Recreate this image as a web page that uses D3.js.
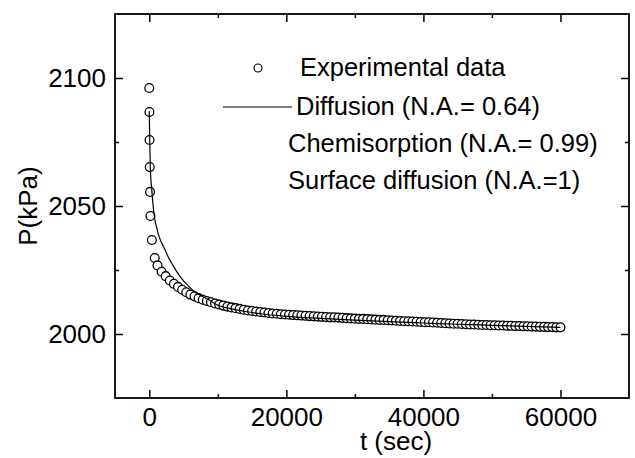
<!DOCTYPE html>
<html>
<head>
<meta charset="utf-8">
<script src="https://cdn.jsdelivr.net/npm/d3@7"></script>
<style>
  body { margin: 0; background: #fff; }
  text { font-family: "Liberation Sans", Arial, sans-serif; fill: #000; }
</style>
</head>
<body>
<div id="chart"></div>
<script>
// experimental points: time (s) and pressure (kPa)
const expT = [0, 20, 40, 70, 110, 170, 380, 800,
  1200, 1800, 2400, 3000, 3600, 4200, 4800, 5400, 6000, 6600,
  7200, 7800, 8400, 9000, 9600, 10200, 10800, 11400, 12000, 12600,
  13200, 13800, 14400, 15000, 15600, 16200, 16800, 17400, 18000, 18600,
  19200, 19800, 20400, 21000, 21600, 22200, 22800, 23400, 24000, 24600,
  25200, 25800, 26400, 27000, 27600, 28200, 28800, 29400, 30000, 30600,
  31200, 31800, 32400, 33000, 33600, 34200, 34800, 35400, 36000, 36600,
  37200, 37800, 38400, 39000, 39600, 40200, 40800, 41400, 42000, 42600,
  43200, 43800, 44400, 45000, 45600, 46200, 46800, 47400, 48000, 48600,
  49200, 49800, 50400, 51000, 51600, 52200, 52800, 53400, 54000, 54600,
  55200, 55800, 56400, 57000, 57600, 58200, 58800, 59400, 60000];
const expP = [2096.1, 2086.7, 2075.8, 2065.2, 2055.5, 2046.1, 2036.7, 2029.7,
  2026.8, 2024.3, 2022.6, 2020.9, 2019.6, 2018.4, 2017.3, 2016.3, 2015.4, 2014.7,
  2014.0, 2013.4, 2012.9, 2012.4, 2011.9, 2011.5, 2011.1, 2010.7, 2010.4, 2010.1,
  2009.8, 2009.5, 2009.2, 2009.0, 2008.8, 2008.6, 2008.4, 2008.2, 2008.0, 2007.9,
  2007.7, 2007.6, 2007.5, 2007.4, 2007.3, 2007.2, 2007.1, 2007.0, 2006.9, 2006.8,
  2006.7, 2006.6, 2006.5, 2006.5, 2006.4, 2006.3, 2006.2, 2006.1, 2006.0, 2005.9,
  2005.9, 2005.8, 2005.7, 2005.6, 2005.5, 2005.5, 2005.4, 2005.3, 2005.2, 2005.1,
  2005.0, 2005.0, 2004.9, 2004.8, 2004.7, 2004.6, 2004.6, 2004.5, 2004.4, 2004.3,
  2004.2, 2004.1, 2004.0, 2004.0, 2003.9, 2003.8, 2003.7, 2003.7, 2003.6, 2003.5,
  2003.5, 2003.4, 2003.4, 2003.3, 2003.3, 2003.2, 2003.2, 2003.1, 2003.1, 2003.0,
  2003.0, 2002.9, 2002.9, 2002.8, 2002.8, 2002.7, 2002.7, 2002.6, 2002.6];

// diffusion model curve
const diffT = [0, 70, 150, 390, 730, 1100, 1610, 2040, 2770, 3500, 4530, 5690,
  6860, 8470, 10000, 12000, 14000, 16000, 20000, 25000, 30000, 35000, 40000,
  45000, 50000, 55000, 60000];
const diffP = [2087, 2075.8, 2065.2, 2055.5, 2046.1, 2041.4, 2036.7, 2034.4,
  2030.1, 2026.6, 2022.3, 2018.8, 2016.0, 2013.7, 2011.2, 2009.8, 2008.8, 2008.0,
  2006.9, 2006.1, 2005.4, 2004.8, 2004.3, 2003.8, 2003.4, 2003.0, 2002.6];

const xMajor = [0, 20000, 40000, 60000];
const xMinor = [10000, 30000, 50000];
const yMajor = [2000, 2050, 2100];
const yMinor = [2025, 2075];

const legendLabels = ["Experimental data", "Diffusion (N.A.= 0.64)",
  "Chemisorption (N.A.= 0.99)", "Surface diffusion (N.A.=1)"];

const W = 635, H = 458;
const margin = {top: 14, right: 6, bottom: 60, left: 115};
const width = W - margin.left - margin.right,
      height = H - margin.top - margin.bottom;

const svg = d3.select("#chart").append("svg")
    .attr("width", W)
    .attr("height", H);

const g = svg.append("g")
    .attr("transform", `translate(${margin.left},${margin.top})`);

const x = d3.scaleLinear().domain([-5000, 70000]).range([0, width]);
const y = d3.scaleLinear().domain([1975, 2125]).range([height, 0]);

// axes, ticks pointing inward on all four sides
function styleAxis(sel) {
    sel.select(".domain").remove();
    sel.selectAll("line").attr("stroke", "#000").attr("stroke-width", 1.5);
    sel.selectAll("text").attr("font-size", "26px")
        .attr("font-family", '"Liberation Sans", Arial, sans-serif');
}

g.append("g").attr("transform", `translate(0,${height})`)
    .call(d3.axisBottom(x).tickValues(xMajor).tickSize(-8).tickPadding(10).tickFormat(d3.format("d")))
    .call(styleAxis);
g.append("g").attr("transform", `translate(0,${height})`)
    .call(d3.axisBottom(x).tickValues(xMinor).tickSize(-4).tickFormat(""))
    .call(styleAxis);
g.append("g")
    .call(d3.axisTop(x).tickValues(xMajor).tickSize(-8).tickFormat(""))
    .call(styleAxis);
g.append("g")
    .call(d3.axisTop(x).tickValues(xMinor).tickSize(-4).tickFormat(""))
    .call(styleAxis);

g.append("g")
    .call(d3.axisLeft(y).tickValues(yMajor).tickSize(-8).tickPadding(9).tickFormat(d3.format("d")))
    .call(styleAxis);
g.append("g")
    .call(d3.axisLeft(y).tickValues(yMinor).tickSize(-4).tickFormat(""))
    .call(styleAxis);
g.append("g").attr("transform", `translate(${width},0)`)
    .call(d3.axisRight(y).tickValues(yMajor).tickSize(-8).tickFormat(""))
    .call(styleAxis);
g.append("g").attr("transform", `translate(${width},0)`)
    .call(d3.axisRight(y).tickValues(yMinor).tickSize(-4).tickFormat(""))
    .call(styleAxis);

g.selectAll(".tick text").attr("fill", "#000");

// frame
g.append("rect")
    .attr("width", width)
    .attr("height", height)
    .attr("fill", "none")
    .attr("stroke", "#000")
    .attr("stroke-width", 1.8);

// axis titles
g.append("text")
    .attr("x", 396 - margin.left)
    .attr("y", height + 52)
    .attr("text-anchor", "middle")
    .attr("font-size", "26px")
    .text("t (sec)");

g.append("text")
    .attr("transform", `translate(${28 - margin.left},${height / 2}) rotate(-90)`)
    .attr("text-anchor", "middle")
    .attr("dy", "0.35em")
    .attr("font-size", "26px")
    .text("P(kPa)");

// experimental circles
const expData = expT.map((t, i) => ({t: t, p: expP[i]}));
g.append("g").selectAll("circle")
    .data(expData)
    .join("circle")
    .attr("cx", d => x(d.t))
    .attr("cy", d => y(d.p))
    .attr("r", 4.4)
    .attr("fill", "#fff")
    .attr("stroke", "#000")
    .attr("stroke-width", 1.3);

// diffusion model line
const diffData = diffT.map((t, i) => ({t: t, p: diffP[i]}));
g.append("path")
    .datum(diffData)
    .attr("fill", "none")
    .attr("stroke", "#000")
    .attr("stroke-width", 1.2)
    .attr("d", d3.line()
        .x(d => x(d.t))
        .y(d => y(d.p))
        .curve(d3.curveMonotoneX));

// legend
const lg = svg.append("g");
lg.append("circle")
    .attr("cx", 258).attr("cy", 68).attr("r", 4)
    .attr("fill", "#fff").attr("stroke", "#000").attr("stroke-width", 1.2);
lg.append("line")
    .attr("x1", 223).attr("x2", 292).attr("y1", 107).attr("y2", 107)
    .attr("stroke", "#000").attr("stroke-width", 1.2);

const legendX = [300, 296, 288, 288];
const legendY = [76, 115, 152, 189];
lg.selectAll("text.leg")
    .data(legendLabels)
    .join("text")
    .attr("class", "leg")
    .attr("x", (d, i) => legendX[i])
    .attr("y", (d, i) => legendY[i])
    .attr("font-size", "25.5px")
    .text(d => d);
</script>
</body>
</html>
